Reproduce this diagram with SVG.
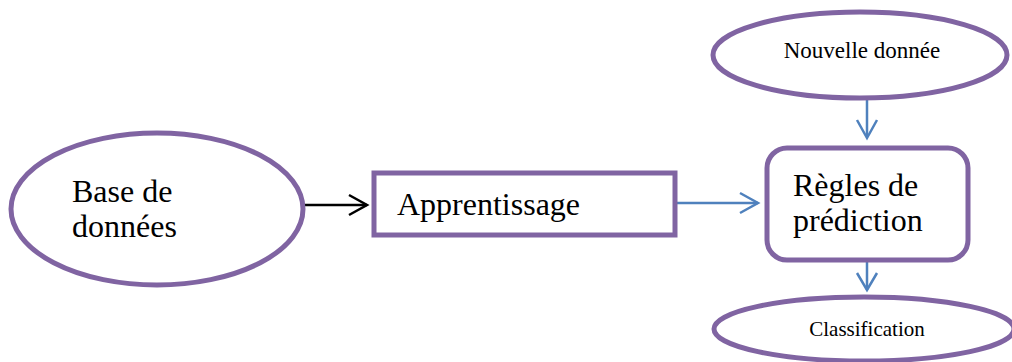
<svg xmlns="http://www.w3.org/2000/svg" width="1012" height="362" viewBox="0 0 1012 362">
<style>
.node{fill:#fff;stroke:#8064A2;stroke-width:5}
.t{font-family:"Liberation Serif","Times New Roman",serif;fill:#000}
.big{font-size:32px}
.blue{stroke:#4F81BD;stroke-width:2.5;fill:none}
.black{stroke:#000;stroke-width:2.5;fill:none}
</style>
<rect width="1012" height="362" fill="#fff"/>
<g id="connectors">
<line class="black" x1="303" y1="205" x2="367" y2="205"/>
<polyline class="black" points="349,195 367,205 349,215"/>
<line class="blue" x1="675" y1="203" x2="758" y2="203"/>
<polyline class="blue" points="740,193 758,203 740,213"/>
<line class="blue" x1="867" y1="98" x2="867" y2="137"/>
<polyline class="blue" points="857,120 867,138 877,120"/>
<line class="blue" x1="867" y1="260" x2="867" y2="290"/>
<polyline class="blue" points="857,273 867,290 877,273"/>
</g>
<g id="base">
<ellipse class="node" cx="157" cy="209" rx="146" ry="76"/>
<text class="t big" x="72" y="202">Base de</text>
<text class="t big" x="72" y="237">données</text>
</g>
<g id="apprentissage">
<rect class="node" x="374" y="173" width="301" height="62"/>
<text class="t big" x="397" y="215">Apprentissage</text>
</g>
<g id="regles">
<rect class="node" x="767" y="148" width="201" height="112" rx="20" ry="20"/>
<text class="t big" x="793" y="196">Règles de</text>
<text class="t big" x="793" y="231">prédiction</text>
</g>
<g id="nouvelle">
<ellipse class="node" cx="860" cy="55" rx="147" ry="43"/>
<text class="t" x="862" y="58" font-size="23" text-anchor="middle">Nouvelle donnée</text>
</g>
<g id="classification">
<ellipse class="node" cx="864" cy="329" rx="150" ry="32"/>
<text class="t" x="867" y="336" font-size="21" text-anchor="middle">Classification</text>
</g>
</svg>
